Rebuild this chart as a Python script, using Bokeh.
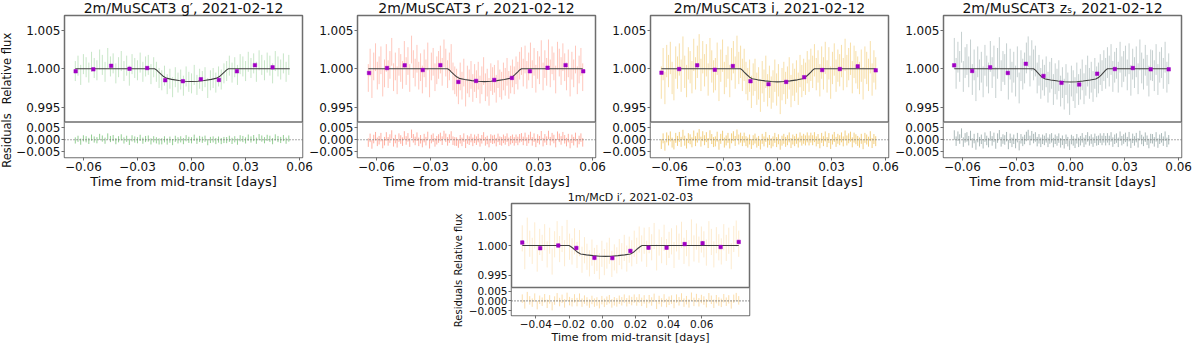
import math
from bokeh.plotting import figure
from bokeh.models import (Range1d, FixedTicker, CustomJSTickFormatter, Span, BoxAnnotation,
                          Label, ColumnDataSource, Spacer)
from bokeh.layouts import row, column
from bokeh.embed import file_html
from bokeh.resources import INLINE

FONT = "DejaVu Sans"

# ---------------- data ----------------
titles = ["2m/MuSCAT3 g\u2032, 2021-02-12", "2m/MuSCAT3 r\u2032, 2021-02-12",
          "2m/MuSCAT3 i, 2021-02-12", "2m/MuSCAT3 z\u209b, 2021-02-12",
          "1m/McD i\u2032, 2021-02-03"]
x_label = "Time from mid-transit [days]"
y_label = "Relative flux"
r_label = "Residuals"

xticks_top = [-0.06, -0.03, 0.0, 0.03, 0.06]
xticks_mcd = [-0.04, -0.02, 0.0, 0.02, 0.04, 0.06]
yticks_main = [0.995, 1.0, 1.005]
yticks_res = [-0.005, 0.0, 0.005]

t_g = [-0.0645, -0.0630, -0.0615, -0.0600, -0.0585, -0.0570, -0.0555, -0.0540, -0.0525, -0.0510,
       -0.0495, -0.0480, -0.0465, -0.0450, -0.0435, -0.0420, -0.0405, -0.0390, -0.0375, -0.0360,
       -0.0345, -0.0330, -0.0315, -0.0300, -0.0285, -0.0270, -0.0255, -0.0240, -0.0225, -0.0210,
       -0.0195, -0.0180, -0.0165, -0.0150, -0.0135, -0.0120, -0.0105, -0.0090, -0.0075, -0.0060,
       -0.0045, -0.0030, -0.0015, 0.0000, 0.0015, 0.0030, 0.0045, 0.0060, 0.0075, 0.0090,
       0.0105, 0.0120, 0.0135, 0.0150, 0.0165, 0.0180, 0.0195, 0.0210, 0.0225, 0.0240,
       0.0255, 0.0270, 0.0285, 0.0300, 0.0315, 0.0330, 0.0345, 0.0360, 0.0375, 0.0390,
       0.0405, 0.0420, 0.0435, 0.0450, 0.0465, 0.0480, 0.0495, 0.0510, 0.0525, 0.0540]
flux_g = [0.9997, 1.0004, 0.9992, 1.0006, 1.0002, 0.9995, 1.0009, 1.0001, 0.9998, 1.0012,
          1.0005, 0.9996, 1.0014, 1.0003, 1.0007, 0.9994, 1.0002, 1.0010, 0.9997, 1.0004,
          0.9991, 1.0006, 1.0001, 0.9998, 1.0008, 0.9996, 1.0003, 1.0005, 0.9993, 1.0002,
          0.9996, 0.9988, 0.9985, 0.9991, 0.9980, 0.9987, 0.9976, 0.9989, 0.9982, 0.9986,
          0.9978, 0.9990, 0.9983, 0.9981, 0.9992, 0.9979, 0.9987, 0.9984, 0.9989, 0.9975,
          0.9985, 0.9988, 0.9982, 0.9990, 0.9986, 0.9994, 0.9997, 1.0004, 0.9995, 1.0002,
          0.9992, 1.0006, 1.0003, 0.9997, 1.0009, 1.0001, 1.0007, 0.9996, 1.0011, 1.0005,
          0.9998, 1.0008, 1.0004, 0.9994, 1.0010, 1.0003, 0.9999, 1.0007, 0.9996, 1.0005]
resid_g = [-0.0003, 0.0004, -0.0008, 0.0006, 0.0002, -0.0005, 0.0009, 0.0001, -0.0002, 0.0012,
           0.0005, -0.0004, 0.0014, 0.0003, 0.0007, -0.0006, 0.0002, 0.0010, -0.0003, 0.0004,
           -0.0009, 0.0006, 0.0001, -0.0002, 0.0008, -0.0004, 0.0003, 0.0005, -0.0007, 0.0002,
           -0.00025, -0.0007, -0.00065, 0.00017, -0.00075, 0.00004, -0.00098, 0.00038, -0.00026, 0.00018,
           -0.00058, 0.00065, -0.00004, -0.00023, 0.00086, -0.00045, 0.00032, -0.00002, 0.00044, -0.00102,
           -0.00008, 0.00014, -0.00055, 0.00007, -0.00055, -0.0001, -0.00015, 0.0004, -0.0005, 0.0002,
           -0.0008, 0.0006, 0.0003, -0.0003, 0.0009, 0.0001, 0.0007, -0.0004, 0.0011, 0.0005,
           -0.0002, 0.0008, 0.0004, -0.0006, 0.0010, 0.0003, -0.0001, 0.0007, -0.0004, 0.0005]

t_m = [-0.0645, -0.0635, -0.0625, -0.0615, -0.0605, -0.0595, -0.0585, -0.0575, -0.0565, -0.0555,
       -0.0545, -0.0535, -0.0525, -0.0515, -0.0505, -0.0495, -0.0485, -0.0475, -0.0465, -0.0455,
       -0.0445, -0.0435, -0.0425, -0.0415, -0.0405, -0.0395, -0.0385, -0.0375, -0.0365, -0.0355,
       -0.0345, -0.0335, -0.0325, -0.0315, -0.0305, -0.0295, -0.0285, -0.0275, -0.0265, -0.0255,
       -0.0245, -0.0235, -0.0225, -0.0215, -0.0205, -0.0195, -0.0185, -0.0175, -0.0165, -0.0155,
       -0.0145, -0.0135, -0.0125, -0.0115, -0.0105, -0.0095, -0.0085, -0.0075, -0.0065, -0.0055,
       -0.0045, -0.0035, -0.0025, -0.0015, -0.0005, 0.0005, 0.0015, 0.0025, 0.0035, 0.0045,
       0.0055, 0.0065, 0.0075, 0.0085, 0.0095, 0.0105, 0.0115, 0.0125, 0.0135, 0.0145,
       0.0155, 0.0165, 0.0175, 0.0185, 0.0195, 0.0205, 0.0215, 0.0225, 0.0235, 0.0245,
       0.0255, 0.0265, 0.0275, 0.0285, 0.0295, 0.0305, 0.0315, 0.0325, 0.0335, 0.0345,
       0.0355, 0.0365, 0.0375, 0.0385, 0.0395, 0.0405, 0.0415, 0.0425, 0.0435, 0.0445,
       0.0455, 0.0465, 0.0475, 0.0485, 0.0495, 0.0505, 0.0515, 0.0525, 0.0535, 0.0545]

flux_r = [0.9988, 1.0008, 0.9980, 1.0003, 1.0015, 0.9991, 0.9998, 1.0011, 0.9982, 0.9994,
          1.0014, 0.9993, 1.0005, 1.0022, 0.9989, 1.0003, 0.9985, 1.0009, 1.0001, 0.9992,
          1.0018, 0.9997, 1.0010, 0.9988, 1.0025, 1.0006, 0.9995, 1.0013, 0.9991, 1.0002,
          0.9986, 1.0007, 0.9994, 1.0016, 0.9981, 1.0003, 1.0009, 0.9989, 0.9998, 1.0005,
          1.0012, 0.9996, 1.0020, 1.0008, 0.9993, 1.0003, 1.0014, 0.9990, 0.9985, 0.9982,
          0.9972, 0.9990, 0.9978, 0.9995, 0.9969, 0.9986, 0.9981, 0.9992, 0.9975, 0.9988,
          0.9980, 0.9991, 0.9973, 0.9985, 0.9997, 0.9976, 0.9982, 0.9970, 0.9989, 0.9984,
          0.9987, 0.9974, 0.9993, 0.9981, 0.9978, 0.9990, 0.9983, 0.9996, 0.9979, 0.9986,
          0.9994, 0.9985, 0.9998, 0.9991, 1.0004, 1.0010, 0.9995, 1.0012, 0.9992, 1.0003,
          1.0016, 0.9993, 1.0009, 0.9987, 1.0005, 0.9998, 1.0019, 0.9990, 1.0006, 0.9996,
          1.0020, 0.9994, 1.0011, 1.0003, 0.9986, 1.0017, 1.0008, 0.9997, 1.0015, 1.0002,
          0.9990, 1.0007, 0.9982, 1.0004, 0.9994, 1.0012, 0.9985, 0.9999, 1.0009, 0.9989]
resid_r = [-0.0012, 0.0008, -0.0020, 0.0003, 0.0015, -0.0009, -0.0002, 0.0011, -0.0018, -0.0006,
           0.0014, -0.0007, 0.0005, 0.0022, -0.0011, 0.0003, -0.0015, 0.0009, 0.0001, -0.0008,
           0.0018, -0.0003, 0.0010, -0.0012, 0.0025, 0.0006, -0.0005, 0.0013, -0.0009, 0.0002,
           -0.0014, 0.0007, -0.0006, 0.0016, -0.0019, 0.0003, 0.0009, -0.0011, -0.0002, 0.0005,
           0.0012, -0.0004, 0.0020, 0.0008, -0.0007, 0.0005, 0.0018, -0.0004, -0.0007, -0.0008,
           -0.0016, 0.0002, -0.0009, 0.0009, -0.0017, 0.0001, -0.0004, 0.0007, -0.0009, 0.0004,
           -0.0004, 0.0007, -0.0011, 0.0002, 0.0014, -0.0007, -0.0001, -0.0014, 0.0005, 0.0000,
           0.0003, -0.0010, 0.0008, -0.0004, -0.0007, 0.0004, -0.0003, 0.0009, -0.0009, -0.0002,
           0.0004, -0.0007, 0.0004, -0.0005, 0.0006, 0.0010, -0.0005, 0.0012, -0.0008, 0.0003,
           0.0016, -0.0007, 0.0009, -0.0013, 0.0005, -0.0002, 0.0019, -0.0010, 0.0006, -0.0004,
           0.0020, -0.0006, 0.0011, 0.0003, -0.0014, 0.0017, 0.0008, -0.0003, 0.0015, 0.0002,
           -0.0010, 0.0007, -0.0018, 0.0004, -0.0006, 0.0012, -0.0015, -0.0001, 0.0009, -0.0011]

flux_i = [0.9982, 1.0006, 0.9975, 1.0010, 0.9997, 1.0014, 0.9988, 0.9980, 1.0008, 0.9995,
          1.0012, 0.9991, 1.0021, 0.9996, 0.9984, 1.0007, 1.0002, 0.9989, 1.0018, 0.9994,
          1.0009, 1.0024, 0.9992, 1.0015, 0.9998, 1.0011, 0.9986, 1.0019, 1.0003, 0.9990,
          0.9993, 1.0013, 0.9979, 1.0004, 1.0017, 0.9988, 0.9997, 1.0008, 0.9984, 1.0006,
          1.0015, 0.9995, 1.0022, 1.0001, 1.0009, 0.9992, 1.0005, 0.9988, 0.9980, 0.9991,
          0.9970, 0.9986, 0.9992, 0.9974, 0.9981, 0.9965, 0.9989, 0.9978, 0.9996, 0.9972,
          0.9983, 0.9969, 0.9977, 0.9991, 0.9973, 0.9985, 0.9962, 0.9980, 0.9988, 0.9975,
          0.9982, 0.9994, 0.9971, 0.9986, 0.9979, 0.9990, 0.9974, 0.9997, 0.9984, 0.9992,
          0.9987, 1.0002, 0.9991, 1.0005, 0.9996, 1.0011, 0.9993, 1.0003, 0.9985, 1.0008,
          0.9994, 1.0014, 0.9990, 1.0007, 0.9982, 1.0001, 1.0012, 0.9991, 1.0004, 0.9998,
          1.0010, 0.9993, 1.0018, 0.9997, 1.0006, 1.0013, 0.9989, 1.0009, 1.0002, 0.9995,
          0.9988, 1.0004, 0.9981, 1.0008, 1.0001, 0.9992, 1.0015, 0.9986, 1.0003, 0.9994]
resid_i = [-0.0018, 0.0006, -0.0025, 0.0010, -0.0003, 0.0014, -0.0012, -0.0020, 0.0008, -0.0005,
           0.0012, -0.0009, 0.0021, -0.0004, -0.0016, 0.0007, 0.0002, -0.0011, 0.0018, -0.0006,
           0.0009, 0.0024, -0.0008, 0.0015, -0.0002, 0.0011, -0.0014, 0.0019, 0.0003, -0.0010,
           -0.0007, 0.0013, -0.0021, 0.0004, 0.0017, -0.0012, -0.0003, 0.0008, -0.0016, 0.0006,
           0.0015, -0.0005, 0.0022, 0.0001, 0.0009, -0.0006, 0.0009, -0.0006, -0.0012, 0.0001,
           -0.0018, -0.0002, 0.0005, -0.0012, -0.0005, -0.0020, 0.0004, -0.0007, 0.0012, -0.0012,
           -0.0001, -0.0015, -0.0007, 0.0008, -0.0010, 0.0002, -0.0021, -0.0004, 0.0004, -0.0009,
           -0.0002, 0.0010, -0.0014, 0.0001, -0.0006, 0.0004, -0.0012, 0.0010, -0.0004, 0.0004,
           -0.0003, 0.0010, -0.0003, 0.0009, -0.0002, 0.0011, -0.0007, 0.0003, -0.0015, 0.0008,
           -0.0006, 0.0014, -0.0010, 0.0007, -0.0018, 0.0001, 0.0012, -0.0009, 0.0004, -0.0002,
           0.0010, -0.0007, 0.0018, -0.0003, 0.0006, 0.0013, -0.0011, 0.0009, 0.0002, -0.0005,
           -0.0012, 0.0004, -0.0019, 0.0008, 0.0001, -0.0008, 0.0015, -0.0014, 0.0003, -0.0006]

flux_z = [1.0020, 0.9994, 1.0015, 1.0003, 1.0028, 0.9990, 1.0008, 1.0012, 0.9996, 1.0018,
          0.9986, 1.0005, 0.9978, 1.0009, 0.9992, 1.0002, 0.9983, 1.0011, 0.9997, 0.9988,
          1.0016, 0.9995, 1.0010, 0.9982, 1.0007, 1.0021, 0.9991, 1.0003, 0.9999, 1.0013,
          0.9980, 1.0006, 0.9989, 1.0002, 0.9984, 1.0009, 0.9975, 1.0004, 0.9993, 1.0001,
          1.0014, 1.0022, 0.9997, 1.0017, 1.0005, 1.0010, 0.9988, 0.9998, 0.9981, 0.9992,
          0.9985, 0.9996, 0.9976, 0.9989, 0.9994, 0.9973, 0.9987, 0.9980, 0.9991, 0.9971,
          0.9982, 0.9967, 0.9986, 0.9975, 0.9960, 0.9984, 0.9978, 0.9969, 0.9988, 0.9973,
          0.9980, 0.9992, 0.9974, 0.9985, 0.9997, 0.9981, 0.9989, 0.9977, 0.9994, 0.9983,
          0.9988, 0.9999, 0.9991, 1.0004, 0.9994, 1.0008, 0.9997, 1.0012, 0.9990, 1.0002,
          1.0007, 0.9989, 1.0015, 0.9996, 1.0003, 1.0010, 0.9992, 1.0013, 0.9985, 1.0006,
          0.9995, 1.0009, 0.9987, 1.0018, 1.0001, 0.9993, 1.0011, 0.9998, 0.9984, 1.0005,
          1.0004, 0.9991, 1.0012, 0.9986, 1.0002, 1.0008, 0.9994, 1.0015, 0.9989, 1.0000]
resid_z = [0.0020, -0.0006, 0.0015, 0.0003, 0.0028, -0.0010, 0.0008, 0.0012, -0.0004, 0.0018,
           -0.0014, 0.0005, -0.0022, 0.0009, -0.0008, 0.0002, -0.0017, 0.0011, -0.0003, -0.0012,
           0.0016, -0.0005, 0.0010, -0.0018, 0.0007, 0.0021, -0.0009, 0.0003, -0.0001, 0.0013,
           -0.0020, 0.0006, -0.0011, 0.0002, -0.0016, 0.0009, -0.0025, 0.0004, -0.0007, 0.0001,
           0.0014, 0.0022, -0.0003, 0.0017, 0.0005, 0.0012, -0.0008, 0.0004, -0.0011, 0.0002,
           -0.0003, 0.0008, -0.0011, 0.0003, 0.0008, -0.0012, 0.0002, -0.0005, 0.0007, -0.0013,
           -0.0002, -0.0017, 0.0002, -0.0008, -0.0023, 0.0001, -0.0005, -0.0015, 0.0004, -0.0011,
           -0.0004, 0.0008, -0.0011, 0.0000, 0.0012, -0.0005, 0.0003, -0.0010, 0.0006, -0.0005,
           -0.0002, 0.0007, -0.0003, 0.0008, -0.0004, 0.0008, -0.0003, 0.0012, -0.0010, 0.0002,
           0.0007, -0.0011, 0.0015, -0.0004, 0.0003, 0.0010, -0.0008, 0.0013, -0.0015, 0.0006,
           -0.0005, 0.0009, -0.0013, 0.0018, 0.0001, -0.0007, 0.0011, -0.0002, -0.0016, 0.0005,
           0.0004, -0.0009, 0.0012, -0.0014, 0.0002, 0.0008, -0.0006, 0.0015, -0.0011, 0.0000]

t_mcd = [-0.0482, -0.0467, -0.0452, -0.0437, -0.0422, -0.0407, -0.0392, -0.0377, -0.0362, -0.0347,
         -0.0332, -0.0317, -0.0302, -0.0287, -0.0272, -0.0257, -0.0242, -0.0227, -0.0212, -0.0197,
         -0.0182, -0.0167, -0.0152, -0.0137, -0.0122, -0.0107, -0.0092, -0.0077, -0.0062, -0.0047,
         -0.0032, -0.0017, -0.0002, 0.0013, 0.0028, 0.0043, 0.0058, 0.0073, 0.0088, 0.0103,
         0.0118, 0.0133, 0.0148, 0.0163, 0.0178, 0.0193, 0.0208, 0.0223, 0.0238, 0.0253,
         0.0268, 0.0283, 0.0298, 0.0313, 0.0328, 0.0343, 0.0358, 0.0373, 0.0388, 0.0403,
         0.0418, 0.0433, 0.0448, 0.0463, 0.0478, 0.0493, 0.0508, 0.0523, 0.0538, 0.0553,
         0.0568, 0.0583, 0.0598, 0.0613, 0.0628, 0.0643, 0.0658, 0.0673, 0.0688, 0.0703,
         0.0718, 0.0733, 0.0748, 0.0763, 0.0778, 0.0793, 0.0808, 0.0823]
flux_mcd = [1.0012, 0.9982, 1.0025, 1.0003, 0.9991, 1.0017, 0.9978, 1.0006, 0.9996, 1.0014,
            0.9985, 1.0008, 0.9973, 1.0002, 1.0019, 0.9994, 1.0011, 0.9987, 1.0021, 0.9998,
            0.9990, 1.0007, 0.9984, 1.0004, 0.9976, 0.9992, 0.9981, 0.9970, 0.9988, 0.9974,
            0.9979, 0.9965, 0.9986, 0.9972, 0.9983, 0.9991, 0.9969, 0.9980, 0.9975, 0.9989,
            0.9982, 0.9996, 0.9978, 0.9993, 0.9987, 1.0003, 0.9991, 1.0010, 0.9995, 1.0008,
            0.9986, 1.0009, 0.9997, 1.0016, 0.9980, 1.0005, 0.9992, 1.0013, 0.9989, 1.0001,
            1.0007, 0.9984, 1.0012, 0.9998, 1.0018, 0.9991, 1.0004, 0.9987, 1.0022, 0.9995,
            1.0015, 0.9993, 1.0010, 1.0002, 0.9988, 1.0019, 1.0006, 0.9985, 1.0009, 0.9997,
            0.9990, 1.0014, 0.9996, 1.0008, 0.9982, 1.0011, 1.0020, 1.0003]
resid_mcd = [0.0012, -0.0018, 0.0025, 0.0003, -0.0009, 0.0017, -0.0022, 0.0006, -0.0004, 0.0014,
             -0.0015, 0.0008, -0.0027, 0.0002, 0.0019, -0.0006, 0.0011, -0.0013, 0.0021, -0.0001,
             -0.0007, 0.0013, -0.0006, 0.0017, -0.0009, 0.0007, -0.0003, -0.0014, 0.0005, -0.0009,
             -0.0003, -0.0017, 0.0004, -0.0010, 0.0001, 0.0009, -0.0013, -0.0002, -0.0008, 0.0006,
             -0.0002, 0.0012, -0.0007, 0.0007, -0.0001, 0.0012, -0.0003, 0.0013, -0.0005, 0.0008,
             -0.0014, 0.0009, -0.0003, 0.0016, -0.0020, 0.0005, -0.0008, 0.0013, -0.0011, 0.0001,
             0.0007, -0.0016, 0.0012, -0.0002, 0.0018, -0.0009, 0.0004, -0.0013, 0.0022, -0.0005,
             0.0015, -0.0007, 0.0010, 0.0002, -0.0012, 0.0019, 0.0006, -0.0015, 0.0009, -0.0003,
             -0.0010, 0.0014, -0.0004, 0.0008, -0.0018, 0.0011, 0.0020, 0.0003]

err_g, err_r, err_i, err_z, err_mcd = 0.0013, 0.0018, 0.0021, 0.0020, 0.0022

# transit models
t_model = [-0.0645, -0.0205, -0.0195, -0.0185, -0.0170, -0.0155, -0.0140, -0.0110, -0.0070, -0.0035, 0.0,
           0.0035, 0.0070, 0.0110, 0.0140, 0.0155, 0.0170, 0.0185, 0.0195, 0.0205, 0.0545]
model_g = [1.0, 1.0, 0.99985, 0.99962, 0.99930, 0.99898, 0.99878, 0.99862, 0.99848, 0.99838, 0.99834,
           0.99838, 0.99848, 0.99862, 0.99878, 0.99898, 0.99930, 0.99962, 0.99985, 1.0, 1.0]
model_r = [1.0, 1.0, 0.99984, 0.99960, 0.99927, 0.99895, 0.99875, 0.99860, 0.99846, 0.99837, 0.99833,
           0.99837, 0.99846, 0.99860, 0.99875, 0.99895, 0.99927, 0.99960, 0.99984, 1.0, 1.0]
model_i = [1.0, 1.0, 0.99982, 0.99957, 0.99922, 0.99890, 0.99870, 0.99856, 0.99843, 0.99834, 0.99830,
           0.99834, 0.99843, 0.99856, 0.99870, 0.99890, 0.99922, 0.99957, 0.99982, 1.0, 1.0]
model_z = [1.0, 1.0, 0.99982, 0.99955, 0.99918, 0.99885, 0.99866, 0.99853, 0.99840, 0.99832, 0.99828,
           0.99832, 0.99840, 0.99853, 0.99866, 0.99885, 0.99918, 0.99955, 0.99982, 1.0, 1.0]
t_model_mcd = [-0.0482, -0.0200, -0.0190, -0.0178, -0.0163, -0.0148, -0.0130, -0.0095, -0.0055, -0.0015, 0.0020,
               0.0055, 0.0095, 0.0135, 0.0170, 0.0188, 0.0203, 0.0218, 0.0230, 0.0240, 0.0823]
model_mcd = [1.0, 1.0, 0.99984, 0.99958, 0.99922, 0.99885, 0.99858, 0.99842, 0.99829, 0.99820, 0.99817,
             0.99820, 0.99829, 0.99842, 0.99858, 0.99885, 0.99922, 0.99958, 0.99984, 1.0, 1.0]

# binned points (purple)
bin_t_g = [-0.0643, -0.0545, -0.0446, -0.0344, -0.0246, -0.0146, -0.0048, 0.0052, 0.0152, 0.0252, 0.0352, 0.0450]
bin_f_g = [0.99967, 0.99992, 1.00038, 1.00000, 1.00009, 0.99851, 0.99838, 0.99864, 0.99855, 0.99967, 1.00047, 1.00018]
bin_t_r = [-0.0641, -0.0541, -0.0443, -0.0343, -0.0245, -0.0145, -0.0047, 0.0054, 0.0152, 0.0252, 0.0350, 0.0450, 0.0548]
bin_f_r = [0.99945, 1.00009, 1.00044, 0.99983, 1.00047, 0.99829, 0.99842, 0.99855, 0.99881, 0.99967, 1.00013, 1.00047, 0.99967]
bin_t_i = [-0.0644, -0.0546, -0.0446, -0.0348, -0.0248, -0.0150, -0.0050, 0.0048, 0.0148, 0.0248, 0.0346, 0.0445, 0.0545]
bin_f_i = [0.99949, 0.99996, 1.00044, 0.99987, 1.00035, 0.99838, 0.99800, 0.99829, 0.99890, 0.99983, 0.99996, 1.00031, 0.99979]
bin_t_z = [-0.0646, -0.0546, -0.0446, -0.0348, -0.0248, -0.0150, -0.0050, 0.0048, 0.0148, 0.0246, 0.0346, 0.0445, 0.0545]
bin_f_z = [1.00044, 0.99971, 1.00018, 0.99945, 1.00064, 0.99906, 0.99817, 0.99795, 0.99936, 0.99996, 1.00009, 0.99992, 0.99992]
bin_t_mcd = [-0.0482, -0.0374, -0.0265, -0.0156, -0.0047, 0.0061, 0.0170, 0.0279, 0.0388, 0.0497, 0.0605, 0.0714, 0.0823]
bin_f_mcd = [1.00050, 0.99955, 1.00000, 0.99959, 0.99792, 0.99788, 0.99909, 0.99964, 0.99964, 1.00024, 1.00039, 0.99974, 1.00061]
bin_err_top, bin_err_mcd = 0.00018, 0.0003

# axis ranges
xr_top = (-0.0705, 0.0616)
xr_mcd = (-0.0547, 0.0888)
yr_top = (0.99308, 1.00692)
rr_top = (-0.0075, 0.0075)
yr_mcd = (0.99293, 1.00707)
rr_mcd = (-0.0076, 0.0070)

colors = ["#2ca02c", "#ff5a3c", "#e8a000", "#4f6d6d", "#f5a623"]
alpha_main = [0.26, 0.34, 0.34, 0.32, 0.22]
alpha_res = [0.50, 0.48, 0.50, 0.48, 0.38]
BIN_COLOR = "#a000c4"
FRAME = "#6e6e6e"
TXT = "#111111"

X_FMT = """
let v = Math.abs(tick) < 1e-9 ? 0 : tick;
return v.toFixed(2).replace('-', '\u2212');
"""
Y_FMT = """
let v = tick;
if (tick < sep) { v = rs + (tick - ys) * k; }
if (Math.abs(v) < 1e-9) { v = 0; }
return v.toFixed(3).replace('-', '\u2212');
"""


def make_panel(title, t, f, r, err, tb, fb, berr, tm, fm, color, a_main, a_res,
               xr, yr, rr, xticks, L, W, R, H, fs, margin_left):
    lo, hi = yr
    rlo, rhi = rr
    ys = lo - (hi - lo) / 3.0                # residual strip takes 1/4 of the frame
    res_top = rlo + 4.0 * (rhi - rlo)
    p = figure(width=L + W + R, height=H, output_backend="svg", toolbar_location=None,
               x_range=Range1d(*xr), y_range=Range1d(ys, hi),
               min_border_left=L, min_border_right=R, min_border_top=0, min_border_bottom=0,
               border_fill_color=None, background_fill_color="white",
               outline_line_color=FRAME, outline_line_width=1.5)
    if margin_left:
        p.margin = (0, 0, 0, margin_left)
    p.extra_y_ranges = {"res": Range1d(rlo, res_top)}
    p.xgrid.visible = False
    p.ygrid.visible = False

    src = ColumnDataSource(dict(
        t=t, f=f, flo=[v - err for v in f], fhi=[v + err for v in f],
        r=r, rlo=[v - err for v in r], rhi=[v + err for v in r]))
    bsrc = ColumnDataSource(dict(t=tb, f=fb, lo=[v - berr for v in fb], hi=[v + berr for v in fb]))

    # upper (flux) panel
    p.segment(x0="t", y0="flo", x1="t", y1="fhi", source=src, line_color=color,
              line_alpha=a_main, line_width=1, level="underlay")
    p.line(tm, fm, line_color="#404040", line_width=1.1, level="underlay")
    p.segment(x0="t", y0="lo", x1="t", y1="hi", source=bsrc, line_color=BIN_COLOR,
              line_width=1, level="underlay")
    p.scatter(x="t", y="f", source=bsrc, marker="square", size=fs["bin"], fill_color=BIN_COLOR,
              line_color=BIN_COLOR, line_width=0.5, level="underlay")
    mask = BoxAnnotation(left=xr[0], right=xr[1], top=lo, bottom=ys, fill_color="white",
                         fill_alpha=1.0, line_alpha=0.0, level="underlay")
    p.renderers = p.renderers + [mask]

    # residual strip
    p.segment(x0="t", y0="rlo", x1="t", y1="rhi", source=src, line_color=color,
              line_alpha=a_res, line_width=1, y_range_name="res")
    p.add_layout(Span(location=0, dimension="width", y_range_name="res", line_color="#555555",
                      line_dash="1 2", line_width=1.2))
    p.add_layout(Span(location=lo, dimension="width", line_color=FRAME, line_width=1.5))

    # axes
    p.xaxis.ticker = FixedTicker(ticks=xticks)
    p.xaxis.formatter = CustomJSTickFormatter(code=X_FMT)
    k = (res_top - rlo) / (hi - ys)
    res_pos = [ys + (v - rlo) / k for v in yticks_res]
    p.yaxis.ticker = FixedTicker(ticks=yticks_main + res_pos)
    p.yaxis.formatter = CustomJSTickFormatter(args=dict(sep=lo, ys=ys, k=k, rs=rlo), code=Y_FMT)
    for ax in (p.xaxis[0], p.yaxis[0]):
        ax.axis_line_color = None
        ax.major_tick_line_color = FRAME
        ax.major_tick_out = 3
        ax.major_tick_in = 0
        ax.minor_tick_out = 0
        ax.minor_tick_in = 0
        ax.major_label_standoff = 1
        ax.major_label_text_font = FONT
        ax.major_label_text_font_size = fs["tick"]
        ax.major_label_text_color = TXT
    p.xaxis.axis_label = x_label
    p.xaxis.axis_label_standoff = 0
    p.xaxis.axis_label_text_font = FONT
    p.xaxis.axis_label_text_font_size = fs["xlabel"]
    p.xaxis.axis_label_text_font_style = "normal"
    p.xaxis.axis_label_text_color = TXT

    p.title.text = title
    p.title.align = "center"
    p.title.text_font = FONT
    p.title.text_font_size = fs["title"]
    p.title.text_font_style = "normal"
    p.title.text_color = TXT
    p.title.standoff = 0
    return p


def label_box(width, height, text, ypos, size):
    """Blank box holding one rotated y-axis title (ypos in pixels from the box bottom)."""
    s = figure(width=width, height=height, output_backend="svg", toolbar_location=None,
               x_axis_type=None, y_axis_type=None, x_range=Range1d(0, width),
               y_range=Range1d(0, height), min_border=0, outline_line_color=None,
               border_fill_color=None, background_fill_color=None)
    s.add_layout(Label(x=width / 2.0, y=ypos, text=text, angle=math.pi / 2,
                       text_align="center", text_baseline="middle", text_font=FONT,
                       text_font_size=size, text_color=TXT))
    return s


fs_top = dict(tick="12px", xlabel="13px", title="14px", bin=3.5)
fs_mcd = dict(tick="10.5px", xlabel="11px", title="11px", bin=3.5)
H1, H2 = 194, 158

strip1 = column(label_box(13, 112, y_label, 41, "11.5px"),
                label_box(13, 82, r_label, 51, "11.5px"))
p1 = make_panel(titles[0], t_g, flux_g, resid_g, err_g, bin_t_g, bin_f_g, bin_err_top, t_model, model_g,
                colors[0], alpha_main[0], alpha_res[0], xr_top, yr_top, rr_top, xticks_top,
                50, 239, 16, H1, fs_top, 0)
p2 = make_panel(titles[1], t_m, flux_r, resid_r, err_r, bin_t_r, bin_f_r, bin_err_top, t_model, model_r,
                colors[1], alpha_main[1], alpha_res[1], xr_top, yr_top, rr_top, xticks_top,
                50, 239, 16, H1, fs_top, -12)
p3 = make_panel(titles[2], t_m, flux_i, resid_i, err_i, bin_t_i, bin_f_i, bin_err_top, t_model, model_i,
                colors[2], alpha_main[2], alpha_res[2], xr_top, yr_top, rr_top, xticks_top,
                50, 239, 16, H1, fs_top, -12)
p4 = make_panel(titles[3], t_m, flux_z, resid_z, err_z, bin_t_z, bin_f_z, bin_err_top, t_model, model_z,
                colors[3], alpha_main[3], alpha_res[3], xr_top, yr_top, rr_top, xticks_top,
                50, 239, 11, H1, fs_top, -12)

strip5 = column(label_box(14, 90, y_label, 34, "10px"),
                label_box(14, 68, r_label, 43, "10px"))
p5 = make_panel(titles[4], t_mcd, flux_mcd, resid_mcd, err_mcd, bin_t_mcd, bin_f_mcd, bin_err_mcd,
                t_model_mcd, model_mcd, colors[4], alpha_main[4], alpha_res[4], xr_mcd, yr_mcd, rr_mcd,
                xticks_mcd, 44, 240, 14, H2, fs_mcd, 0)

top_row = row(strip1, p1, p2, p3, p4)
top_row.margin = (-3, 0, 0, 0)
bottom_row = row(Spacer(width=451, height=H2), strip5, p5)
bottom_row.margin = (-3, 0, 0, 0)
layout = column(top_row, bottom_row)

open("out.html", "w").write(file_html(layout, INLINE))
